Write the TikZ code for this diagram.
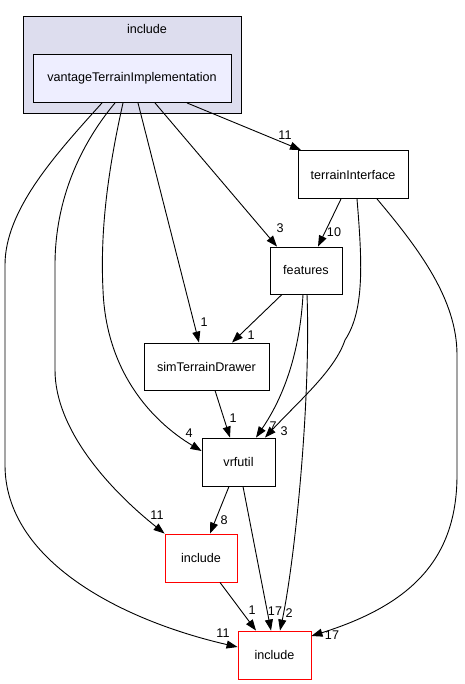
\documentclass[tikz,border=0pt]{standalone}
\usepackage{fontspec}
\setmainfont{Liberation Sans}
\usetikzlibrary{arrows.meta}
\definecolor{groupfill}{HTML}{DDDDEE}
\definecolor{dirfill}{HTML}{EEEEFF}

\begin{document}
\begin{tikzpicture}[x=1pt, y=-1pt,
    dirbox/.style = {draw, line width=0.9pt, inner sep=0pt, font=\fontsize{12.6}{15}\selectfont},
    extbox/.style = {dirbox, draw=red, fill=white, minimum width=72pt, minimum height=48pt},
    dep/.style = {-{Triangle[length=11pt, width=8pt]}, line width=0.9pt},
    num/.style = {inner sep=0pt, font=\fontsize{12.6}{15}\selectfont}]
    \useasboundingbox (0,0) rectangle (464,684);

    % the enclosing directory
    \node[draw, fill = groupfill, line width=0.9pt, minimum width=218pt, minimum height=97pt] (grp) at (132,64.5) {};
    \node[num] (grplabel) at (147,29) {include};
    \node[dirbox, fill = dirfill, minimum width=198pt, minimum height=48pt] (vti) at (132,78.5) {vantageTerrainImplementation};

    \node[dirbox, minimum width=110pt, minimum height=48pt] (ti) at (353,174.5) {terrainInterface};
    \node[dirbox, minimum width=72pt, minimum height=47pt] (feat) at (306,270.5) {features};
    \node[dirbox, minimum width=125pt, minimum height=47pt] (sim) at (206.5,366.5) {simTerrainDrawer};
    \node[dirbox, minimum width=73pt, minimum height=48pt] (vrf) at (238.5,462) {vrfutil};
    \node[extbox] (incA) at (201,558) {include};
    \node[extbox, minimum width=73pt] (incB) at (274.5,655) {include};

    \draw[dep] ([xshift=55pt]vti.south) -- ([xshift=-52pt]ti.north) node[num] (l1) at (285,135) {11};
    \draw[dep] ([xshift=23pt]vti.south) -- ([xshift=-29pt]feat.north) node[num] (l2) at (280,228) {3};
    \draw[dep] ([xshift=6pt]vti.south) -- ([xshift=-7.5pt]sim.north) node[num] (l3) at (204,322) {1};
    \draw[dep] ([xshift=-9pt]vti.south) .. controls (108,170) and (100,230) .. (103,290)
      .. controls (106,370) and (150,420) .. ([yshift=11pt]vrf.west) node[num] (l4) at (189,433) {4};
    \draw[dep] ([xshift=-17pt]vti.south) .. controls (80,145) and (55,200) .. (55,265) -- (55,370)
      .. controls (55,430) and (110,490) .. (incA.north west) node[num] (l5) at (157,515) {11};
    \draw[dep] ([xshift=-30pt]vti.south) .. controls (55,155) and (5,210) .. (5,265) -- (5,465)
      .. controls (5,560) and (120,620) .. ([yshift=8pt]incB.west) node[num] (l6) at (223,633) {11};

    \draw[dep] ([xshift=-12pt]ti.south) -- ([xshift=12pt]feat.north) node[num] (l7) at (334,232) {10};
    \draw[dep] ([xshift=4pt]ti.south) .. controls (362,260) and (365,310) .. (345,340)
      .. controls (335,370) and (300,400) .. ([xshift=26.5pt]vrf.north) node[num] (l8) at (284,431) {3};
    \draw[dep] ([xshift=24pt]ti.south) .. controls (420,250) and (457,300) .. (457,355) -- (457,475)
      .. controls (457,560) and (410,605) .. ([yshift=19pt]incB.east) node[num] (l9) at (332,635) {17};

    \draw[dep] ([xshift=-24pt]feat.south) -- ([xshift=25.5pt]sim.north) node[num] (l10) at (251,335) {1};
    \draw[dep] ([xshift=-3pt]feat.south) .. controls (300,350) and (285,395) .. ([xshift=17.5pt]vrf.north) node[num] (l11) at (273,426) {7};
    \draw[dep] ([xshift=1pt]feat.south) .. controls (311,400) and (295,560) .. ([xshift=5.5pt]incB.north) node[num] (l12) at (289,613) {2};

    \draw[dep] ([xshift=8.5pt]sim.south) -- ([xshift=-8.5pt]vrf.north) node[num] (l13) at (233,418) {1};
    \draw[dep] ([xshift=-9.5pt]vrf.south) -- ([xshift=9pt]incA.north) node[num] (l14) at (224,520) {8};
    \draw[dep] ([xshift=4.5pt]vrf.south) -- ([xshift=-3.5pt]incB.north) node[num] (l15) at (275,611) {17};
    \draw[dep] ([xshift=19pt]incA.south) -- ([xshift=-18.5pt]incB.north) node[num] (l16) at (252,610) {1};
  \end{tikzpicture}
\end{document}
